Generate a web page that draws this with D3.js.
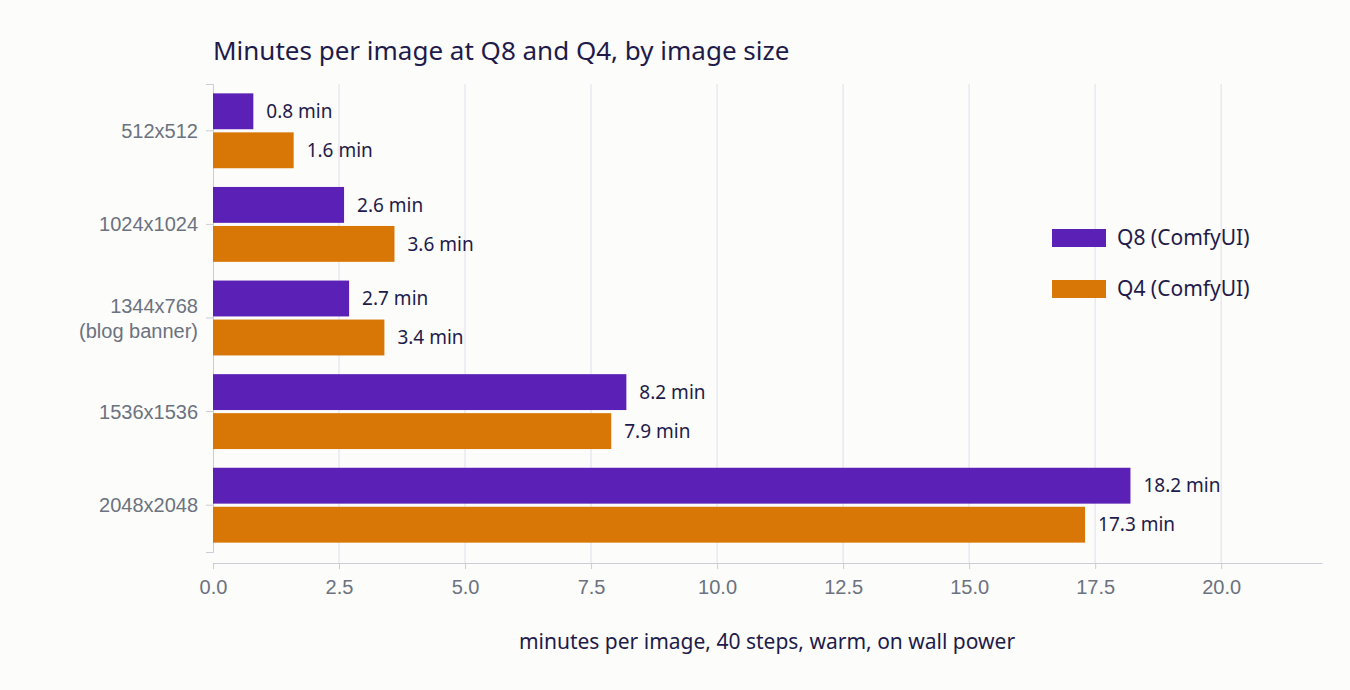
<!DOCTYPE html>
<html><head><meta charset="utf-8">
<script src="https://cdn.jsdelivr.net/npm/d3@7"></script>
<style>body{margin:0;background:#fcfcfa}svg{font-family:"Noto Sans",sans-serif}</style>
</head><body><svg id="chart" width="1350" height="690"></svg>
<script>
const sizes = ["512x512", "1024x1024", "1344x768\n(blog banner)", "1536x1536", "2048x2048"];
const q8 = [0.8, 2.6, 2.7, 8.2, 18.2];
const q4 = [1.6, 3.6, 3.4, 7.9, 17.3];
const seriesNames = ["Q8 (ComfyUI)", "Q4 (ComfyUI)"];
const colors = ["#5b21b6", "#d97706"];
const xTicks = [0, 2.5, 5, 7.5, 10, 12.5, 15, 17.5, 20];

const svg = d3.select("#chart");
const x = d3.scaleLinear().domain([0, 22]).range([213, 1322]);
const y = d3.scaleBand().domain(sizes).range([84, 552]).paddingInner(0.2).paddingOuter(0.1);
const sub = d3.scaleBand().domain([0, 1]).range([0, y.bandwidth()]).paddingInner(0.08);

// grid
svg.append("g").selectAll("line").data(xTicks.slice(1)).join("line")
  .attr("x1", d => x(d)).attr("x2", d => x(d)).attr("y1", 84).attr("y2", 563)
  .attr("stroke", "#e8e8f2").attr("stroke-width", 1.5);

// x axis
const xa = svg.append("g").attr("transform", "translate(0,563)")
  .call(d3.axisBottom(x).tickValues(xTicks).tickFormat(d3.format(".1f")).tickSize(6).tickSizeOuter(0));
xa.select(".domain").attr("stroke", "#ccccd6");
xa.selectAll(".tick line").attr("stroke", "#ccccd6");
xa.selectAll("text").attr("fill", "#6b7280").attr("font-size", 20).attr("dy", "1.1em");

// y axis
const ya = svg.append("g").attr("transform", "translate(213,0)")
  .call(d3.axisLeft(y).tickSize(7).tickFormat(""));
ya.select(".domain").attr("stroke", "#ccccd6");
ya.selectAll(".tick line").attr("stroke", "#ccccd6");
ya.selectAll(".tick").each(function(d) {
  const lines = d.split("\n");
  const t = d3.select(this).append("text").attr("fill", "#6b7280").attr("font-size", 20)
    .attr("text-anchor", "end").attr("x", -15);
  lines.forEach((l, i) => t.append("tspan").attr("x", -15)
    .attr("dy", i === 0 ? (lines.length === 1 ? "0.35em" : "-0.25em") : "1.25em").text(l));
});

// bars
[q8, q4].forEach((vals, s) => {
  const g = svg.append("g");
  g.selectAll("rect").data(vals).join("rect")
    .attr("x", x(0)).attr("y", (d, i) => y(sizes[i]) + sub(s))
    .attr("width", d => x(d) - x(0)).attr("height", sub.bandwidth()).attr("fill", colors[s]);
  g.selectAll("text").data(vals).join("text")
    .attr("x", d => x(d) + 13).attr("y", (d, i) => y(sizes[i]) + sub(s) + sub.bandwidth() / 2)
    .attr("dy", "0.35em").attr("font-size", 19).attr("fill", "#1e1b4b")
    .text(d => d.toFixed(1) + " min");
});

// legend
seriesNames.forEach((n, i) => {
  svg.append("rect").attr("x", 1052).attr("y", 229 + i * 51).attr("width", 54).attr("height", 18).attr("fill", colors[i]);
  svg.append("text").attr("x", 1117).attr("y", 238 + i * 51).attr("dy", "0.35em")
    .attr("font-size", 21).attr("fill", "#1e1b4b").text(n);
});

svg.append("text").attr("x", 213).attr("y", 60).attr("font-size", 26).attr("fill", "#1e1b4b")
  .text("Minutes per image at Q8 and Q4, by image size");
svg.append("text").attr("x", 767).attr("y", 649).attr("text-anchor", "middle").attr("font-size", 21)
  .attr("fill", "#1e1b4b").text("minutes per image, 40 steps, warm, on wall power");
</script></body></html>
